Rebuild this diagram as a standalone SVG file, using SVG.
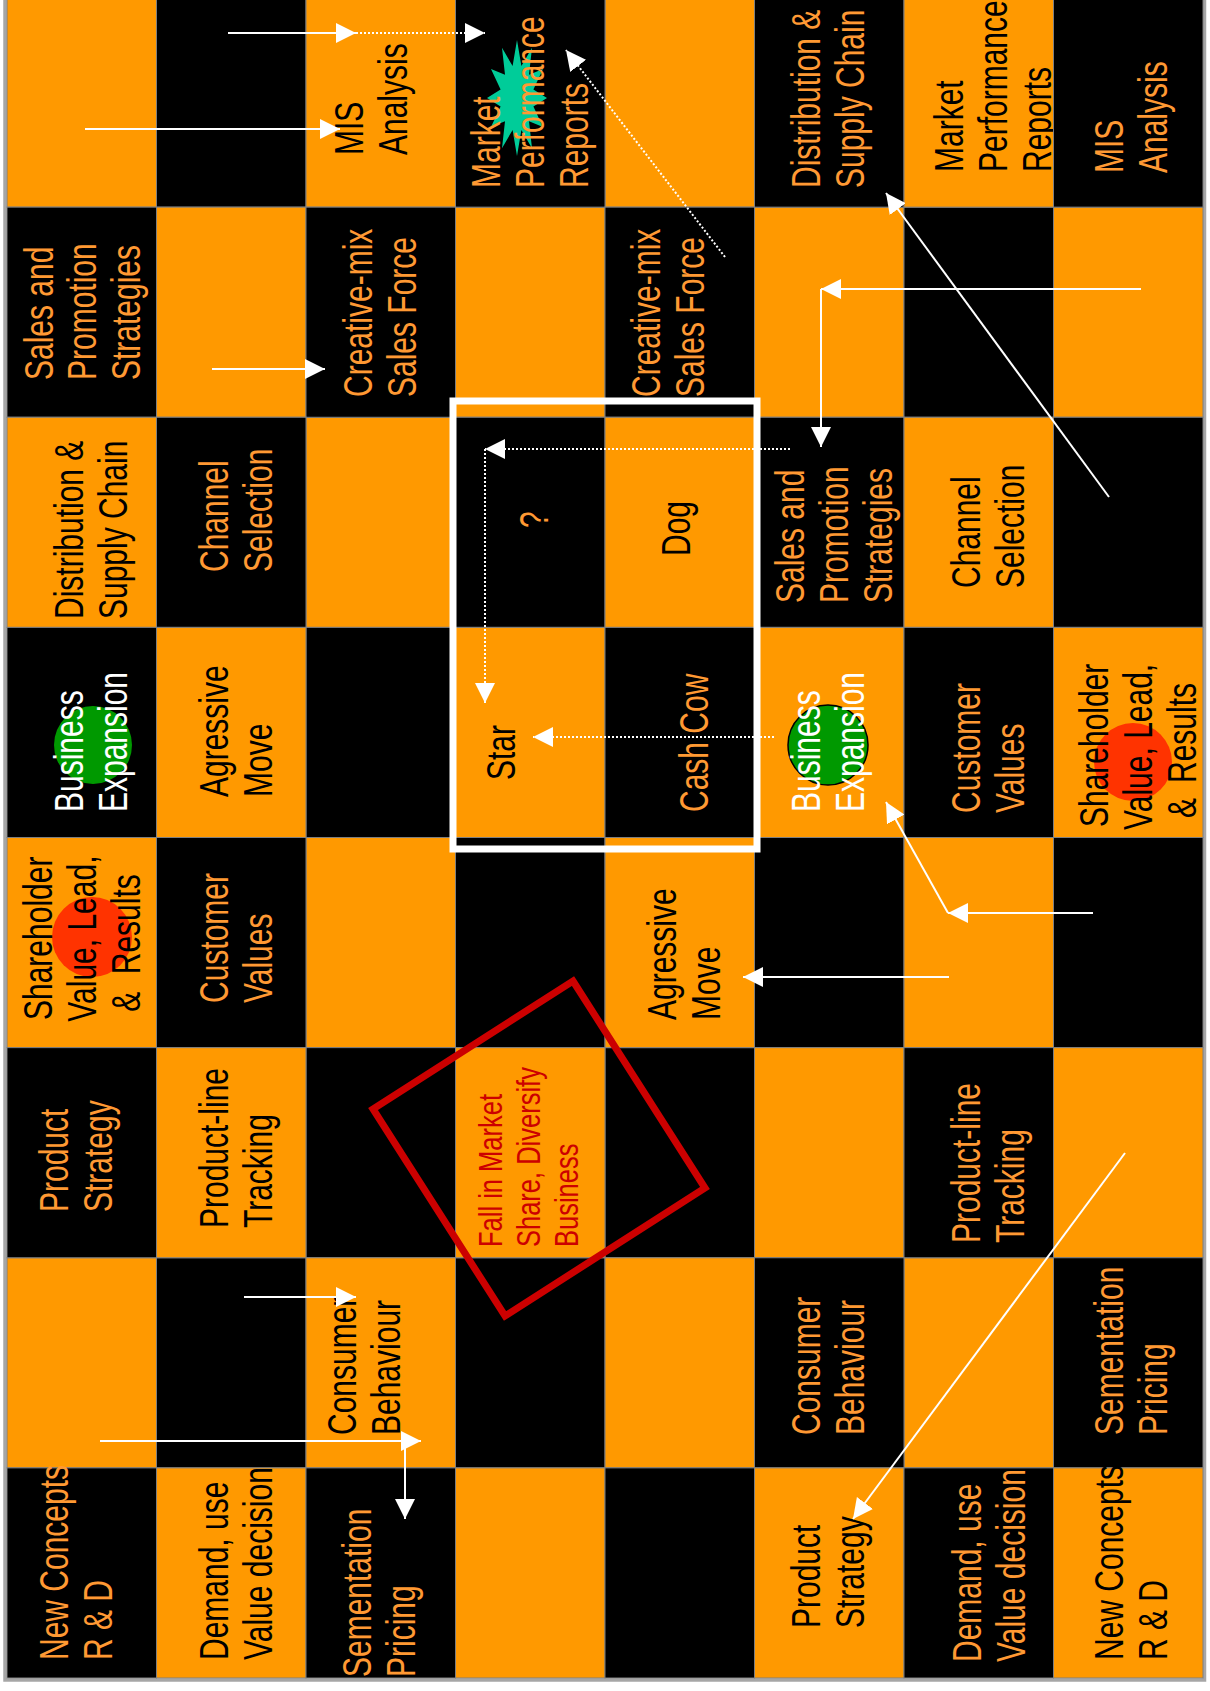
<svg xmlns="http://www.w3.org/2000/svg" width="1210" height="1691" viewBox="0 0 1210 1691">
<style>
.o{fill:#FF9900;stroke:#7f7f7f;stroke-width:1}
.k{fill:#000000;stroke:#7f7f7f;stroke-width:1}
.t{font-family:"Liberation Sans",Arial,sans-serif;font-size:40px}
.tb{fill:#000000}
.to{fill:#FF9933}
.tw{fill:#FFFFFF}
.tr{fill:#CC0000;font-size:34px}
.gc{fill:#009900}
.rc{fill:#FF3300}
.ln{stroke:#FFFFFF;stroke-width:2;fill:none;marker-end:url(#ah)}
.dt{stroke-dasharray:2 2}
</style>
<defs>
<marker id="ah" viewBox="0 0 20 20" refX="20" refY="10" markerWidth="20" markerHeight="20" markerUnits="userSpaceOnUse" orient="auto">
<path d="M0,0 L20,10 L0,20 z" fill="#FFFFFF"/>
</marker>
</defs>
<rect x="0" y="0" width="1210" height="1691" fill="#FFFFFF"/>
<rect x="5" y="-10" width="1199.5" height="1690" fill="none" stroke="#A6A6A6" stroke-width="3.5"/>
<g id="board">
<rect class="o" x="7" y="-3" width="149.5" height="210.125"/>
<rect class="k" x="156.5" y="-3" width="149.5" height="210.125"/>
<rect class="o" x="605" y="-3" width="149.5" height="210.125"/>
<rect class="o" x="156.5" y="207.125" width="149.5" height="210.125"/>
<rect class="o" x="455.5" y="207.125" width="149.5" height="210.125"/>
<rect class="o" x="754.5" y="207.125" width="149.5" height="210.125"/>
<rect class="k" x="904" y="207.125" width="149.5" height="210.125"/>
<rect class="o" x="1053.5" y="207.125" width="149.5" height="210.125"/>
<rect class="o" x="306" y="417.25" width="149.5" height="210.125"/>
<rect class="k" x="1053.5" y="417.25" width="149.5" height="210.125"/>
<rect class="k" x="306" y="627.375" width="149.5" height="210.125"/>
<rect class="o" x="306" y="837.5" width="149.5" height="210.125"/>
<rect class="k" x="455.5" y="837.5" width="149.5" height="210.125"/>
<rect class="k" x="754.5" y="837.5" width="149.5" height="210.125"/>
<rect class="o" x="904" y="837.5" width="149.5" height="210.125"/>
<rect class="k" x="1053.5" y="837.5" width="149.5" height="210.125"/>
<rect class="k" x="306" y="1047.625" width="149.5" height="210.125"/>
<rect class="k" x="605" y="1047.625" width="149.5" height="210.125"/>
<rect class="o" x="754.5" y="1047.625" width="149.5" height="210.125"/>
<rect class="o" x="1053.5" y="1047.625" width="149.5" height="210.125"/>
<rect class="o" x="7" y="1257.75" width="149.5" height="210.125"/>
<rect class="k" x="156.5" y="1257.75" width="149.5" height="210.125"/>
<rect class="k" x="455.5" y="1257.75" width="149.5" height="210.125"/>
<rect class="o" x="605" y="1257.75" width="149.5" height="210.125"/>
<rect class="o" x="904" y="1257.75" width="149.5" height="210.125"/>
<rect class="o" x="455.5" y="1467.875" width="149.5" height="210.125"/>
<rect class="k" x="605" y="1467.875" width="149.5" height="210.125"/>
</g>

<g id="n-r0c2"><rect class="o" x="306" y="-3" width="149.5" height="210.125"/>
<text class="t tb" transform="translate(363,155) rotate(-90) scale(0.75,1)"><tspan x="0" y="0">MIS</tspan><tspan x="0" y="44">Analysis</tspan></text></g>
<g id="n-r0c3"><rect class="k" x="455.5" y="-3" width="149.5" height="210.125"/>
<polygon fill="#00CC99" points="547,98 533.4,106.5 543,127 529,121.3 532,148.2 521.4,129.9 517,156 512.6,129.9 502,148.2 505,121.3 491,127 500.6,106.5 487,98 500.6,89.5 491,69 505,74.7 502,47.8 512.6,66.1 517,40 521.4,66.1 532,47.8 529,74.7 543,69 533.4,89.5"/>
<text class="t to" transform="translate(500,188) rotate(-90) scale(0.75,1)"><tspan x="0" y="0">Market</tspan><tspan x="0" y="44">Performance</tspan><tspan x="0" y="88">Reports</tspan></text></g>
<g id="n-r0c5"><rect class="k" x="754.5" y="-3" width="149.5" height="210.125"/>
<text class="t to" transform="translate(820,188) rotate(-90) scale(0.75,1)"><tspan x="0" y="0">Distribution &amp;</tspan><tspan x="0" y="44">Supply Chain</tspan></text></g>
<g id="n-r0c6"><rect class="o" x="904" y="-3" width="149.5" height="210.125"/>
<text class="t tb" transform="translate(963,172) rotate(-90) scale(0.75,1)"><tspan x="0" y="0">Market</tspan><tspan x="0" y="44">Performance</tspan><tspan x="0" y="88">Reports</tspan></text></g>
<g id="n-r0c7"><rect class="k" x="1053.5" y="-3" width="149.5" height="210.125"/>
<text class="t to" transform="translate(1123,173) rotate(-90) scale(0.75,1)"><tspan x="0" y="0">MIS</tspan><tspan x="0" y="44">Analysis</tspan></text></g>

<g id="n-r1c0"><rect class="k" x="7" y="207.125" width="149.5" height="210.125"/>
<text class="t to" transform="translate(52.5,380) rotate(-90) scale(0.75,1)"><tspan x="0" y="0">Sales and</tspan><tspan x="0" y="44">Promotion</tspan><tspan x="0" y="88">Strategies</tspan></text></g>
<g id="n-r1c2"><rect class="k" x="306" y="207.125" width="149.5" height="210.125"/>
<text class="t to" transform="translate(372,397) rotate(-90) scale(0.75,1)"><tspan x="0" y="0">Creative-mix</tspan><tspan x="0" y="44">Sales Force</tspan></text></g>
<g id="n-r1c4"><rect class="k" x="605" y="207.125" width="149.5" height="210.125"/>
<text class="t to" transform="translate(660,397) rotate(-90) scale(0.75,1)"><tspan x="0" y="0">Creative-mix</tspan><tspan x="0" y="44">Sales Force</tspan></text></g>

<g id="n-r2c0"><rect class="o" x="7" y="417.25" width="149.5" height="210.125"/>
<text class="t tb" transform="translate(83,619) rotate(-90) scale(0.75,1)"><tspan x="0" y="0">Distribution &amp;</tspan><tspan x="0" y="44">Supply Chain</tspan></text></g>
<g id="n-r2c1"><rect class="k" x="156.5" y="417.25" width="149.5" height="210.125"/>
<text class="t to" transform="translate(228,572) rotate(-90) scale(0.75,1)"><tspan x="0" y="0">Channel</tspan><tspan x="0" y="44">Selection</tspan></text></g>
<g id="n-r2c3"><rect class="k" x="455.5" y="417.25" width="149.5" height="210.125"/>
<text class="t to" transform="translate(548,528) rotate(-90) scale(0.75,1)">?</text></g>
<g id="n-r2c4"><rect class="o" x="605" y="417.25" width="149.5" height="210.125"/>
<text class="t tb" transform="translate(690,556) rotate(-90) scale(0.75,1)">Dog</text></g>
<g id="n-r2c5"><rect class="k" x="754.5" y="417.25" width="149.5" height="210.125"/>
<text class="t to" transform="translate(804,603) rotate(-90) scale(0.75,1)"><tspan x="0" y="0">Sales and</tspan><tspan x="0" y="44">Promotion</tspan><tspan x="0" y="88">Strategies</tspan></text></g>
<g id="n-r2c6"><rect class="o" x="904" y="417.25" width="149.5" height="210.125"/>
<text class="t tb" transform="translate(980,588) rotate(-90) scale(0.75,1)"><tspan x="0" y="0">Channel</tspan><tspan x="0" y="44">Selection</tspan></text></g>

<g id="n-r3c0"><rect class="k" x="7" y="627.375" width="149.5" height="210.125"/>
<circle class="gc" cx="93" cy="745" r="39"/>
<text class="t tw" transform="translate(83,812) rotate(-90) scale(0.75,1)"><tspan x="0" y="0">Business</tspan><tspan x="0" y="44">Expansion</tspan></text></g>
<g id="n-r3c1"><rect class="o" x="156.5" y="627.375" width="149.5" height="210.125"/>
<text class="t tb" transform="translate(228,797) rotate(-90) scale(0.75,1)"><tspan x="0" y="0">Agressive</tspan><tspan x="0" y="44">Move</tspan></text></g>
<g id="n-r3c3"><rect class="o" x="455.5" y="627.375" width="149.5" height="210.125"/>
<text class="t tb" transform="translate(515,780) rotate(-90) scale(0.75,1)">Star</text></g>
<g id="n-r3c4"><rect class="k" x="605" y="627.375" width="149.5" height="210.125"/>
<text class="t to" transform="translate(708,812) rotate(-90) scale(0.75,1)">Cash Cow</text></g>
<g id="n-r3c5"><rect class="o" x="754.5" y="627.375" width="149.5" height="210.125"/>
<circle class="gc" cx="828" cy="745" r="40" stroke="#000" stroke-width="1.5"/>
<text class="t tw" transform="translate(820,812) rotate(-90) scale(0.75,1)"><tspan x="0" y="0">Business</tspan><tspan x="0" y="44">Expansion</tspan></text></g>
<g id="n-r3c6"><rect class="k" x="904" y="627.375" width="149.5" height="210.125"/>
<text class="t to" transform="translate(980,813) rotate(-90) scale(0.75,1)"><tspan x="0" y="0">Customer</tspan><tspan x="0" y="44">Values</tspan></text></g>
<g id="n-r3c7"><rect class="o" x="1053.5" y="627.375" width="149.5" height="210.125"/>
<circle class="rc" cx="1133" cy="762" r="39"/>
<text class="t tb" transform="translate(1108,828) rotate(-90) scale(0.75,1)"><tspan x="1.3" y="0">Shareholder</tspan><tspan x="-2.7" y="44">Value, Lead,</tspan><tspan x="13.3" y="88">&amp;</tspan><tspan x="60" y="88">Results</tspan></text></g>

<g id="n-r4c0"><rect class="o" x="7" y="837.5" width="149.5" height="210.125"/>
<circle class="rc" cx="92" cy="937" r="40"/>
<text class="t tb" transform="translate(52,1020) rotate(-90) scale(0.75,1)"><tspan x="0" y="0">Shareholder</tspan><tspan x="-2.3" y="44">Value, Lead,</tspan><tspan x="11" y="88">&amp;</tspan><tspan x="61" y="88">Results</tspan></text></g>
<g id="n-r4c1"><rect class="k" x="156.5" y="837.5" width="149.5" height="210.125"/>
<text class="t to" transform="translate(228,1003) rotate(-90) scale(0.75,1)"><tspan x="0" y="0">Customer</tspan><tspan x="0" y="44">Values</tspan></text></g>
<g id="n-r4c4"><rect class="o" x="605" y="837.5" width="149.5" height="210.125"/>
<text class="t tb" transform="translate(676,1020) rotate(-90) scale(0.75,1)"><tspan x="0" y="0">Agressive</tspan><tspan x="0" y="44">Move</tspan></text></g>

<g id="n-r5c0"><rect class="k" x="7" y="1047.625" width="149.5" height="210.125"/>
<text class="t to" transform="translate(68,1212) rotate(-90) scale(0.75,1)"><tspan x="0" y="0">Product</tspan><tspan x="0" y="44">Strategy</tspan></text></g>
<g id="n-r5c1"><rect class="o" x="156.5" y="1047.625" width="149.5" height="210.125"/>
<text class="t tb" transform="translate(228,1228) rotate(-90) scale(0.75,1)"><tspan x="0" y="0">Product-line</tspan><tspan x="0" y="44">Tracking</tspan></text></g>
<g id="n-r5c3"><rect class="o" x="455.5" y="1047.625" width="149.5" height="210.125"/>
<text class="t tr" transform="translate(502,1247) rotate(-90) scale(0.75,1)"><tspan x="0" y="0">Fall in Market</tspan><tspan x="0" y="38">Share, Diversify</tspan><tspan x="0" y="76">Business</tspan></text></g>
<g id="n-r5c6"><rect class="k" x="904" y="1047.625" width="149.5" height="210.125"/>
<text class="t to" transform="translate(980,1243) rotate(-90) scale(0.75,1)"><tspan x="0" y="0">Product-line</tspan><tspan x="0" y="44">Tracking</tspan></text></g>

<g id="n-r6c2"><rect class="o" x="306" y="1257.75" width="149.5" height="210.125"/>
<text class="t tb" transform="translate(356,1435) rotate(-90) scale(0.75,1)"><tspan x="0" y="0">Consumer</tspan><tspan x="0" y="44">Behaviour</tspan></text></g>
<g id="n-r6c5"><rect class="k" x="754.5" y="1257.75" width="149.5" height="210.125"/>
<text class="t to" transform="translate(820,1435) rotate(-90) scale(0.75,1)"><tspan x="0" y="0">Consumer</tspan><tspan x="0" y="44">Behaviour</tspan></text></g>
<g id="n-r6c7"><rect class="k" x="1053.5" y="1257.75" width="149.5" height="210.125"/>
<text class="t to" transform="translate(1123,1435) rotate(-90) scale(0.75,1)"><tspan x="0" y="0">Sementation</tspan><tspan x="0" y="44">Pricing</tspan></text></g>

<g id="n-r7c0"><rect class="k" x="7" y="1467.875" width="149.5" height="210.125"/>
<text class="t to" transform="translate(68,1660) rotate(-90) scale(0.75,1)"><tspan x="0" y="0">New Concepts</tspan><tspan x="0" y="44">R &amp; D</tspan></text></g>
<g id="n-r7c1"><rect class="o" x="156.5" y="1467.875" width="149.5" height="210.125"/>
<text class="t tb" transform="translate(228,1660) rotate(-90) scale(0.75,1)"><tspan x="0" y="0">Demand, use</tspan><tspan x="0" y="44">Value decision</tspan></text></g>
<g id="n-r7c2"><rect class="k" x="306" y="1467.875" width="149.5" height="210.125"/>
<text class="t to" transform="translate(371,1677) rotate(-90) scale(0.75,1)"><tspan x="0" y="0">Sementation</tspan><tspan x="0" y="44">Pricing</tspan></text></g>
<g id="n-r7c5"><rect class="o" x="754.5" y="1467.875" width="149.5" height="210.125"/>
<text class="t tb" transform="translate(820,1628) rotate(-90) scale(0.75,1)"><tspan x="0" y="0">Product</tspan><tspan x="0" y="44">Strategy</tspan></text></g>
<g id="n-r7c6"><rect class="k" x="904" y="1467.875" width="149.5" height="210.125"/>
<text class="t to" transform="translate(981,1662) rotate(-90) scale(0.75,1)"><tspan x="0" y="0">Demand, use</tspan><tspan x="0" y="44">Value decision</tspan></text></g>
<g id="n-r7c7"><rect class="o" x="1053.5" y="1467.875" width="149.5" height="210.125"/>
<text class="t tb" transform="translate(1123,1660) rotate(-90) scale(0.75,1)"><tspan x="0" y="0">New Concepts</tspan><tspan x="0" y="44">R &amp; D</tspan></text></g>

<g id="frames">
<rect x="453" y="401" width="304" height="448" fill="none" stroke="#FFFFFF" stroke-width="7"/>
<polygon points="573,981 705,1188 505,1316 373,1109" fill="none" stroke="#CC0000" stroke-width="7"/>
</g>

<g id="connectors">
<line class="ln" x1="85" y1="129" x2="340" y2="129"/>
<line class="ln" x1="228" y1="33" x2="356" y2="33"/>
<line class="ln dt" x1="356" y1="33" x2="485" y2="33"/>
<line class="ln dt" x1="725" y1="257" x2="566" y2="50"/>
<line class="ln" x1="212" y1="369" x2="325" y2="369"/>
<line class="ln" x1="1141" y1="289" x2="821" y2="289"/>
<line class="ln" x1="821" y1="289" x2="821" y2="447"/>
<line class="ln" x1="1109" y1="497" x2="886" y2="193"/>
<line class="ln dt" x1="790" y1="449" x2="485" y2="449"/>
<line class="ln dt" x1="485" y1="449" x2="485" y2="703"/>
<line class="ln dt" x1="774" y1="737" x2="533" y2="737"/>
<line class="ln" x1="1093" y1="913" x2="948" y2="913"/>
<line class="ln" x1="948" y1="913" x2="886" y2="802"/>
<line class="ln" x1="949" y1="977" x2="743" y2="977"/>
<line class="ln" x1="1125" y1="1153" x2="853" y2="1519"/>
<line class="ln" x1="244" y1="1297" x2="356" y2="1297"/>
<line class="ln" x1="100" y1="1441" x2="421" y2="1441"/>
<line class="ln" x1="405" y1="1441" x2="405" y2="1519"/>
</g>
</svg>
